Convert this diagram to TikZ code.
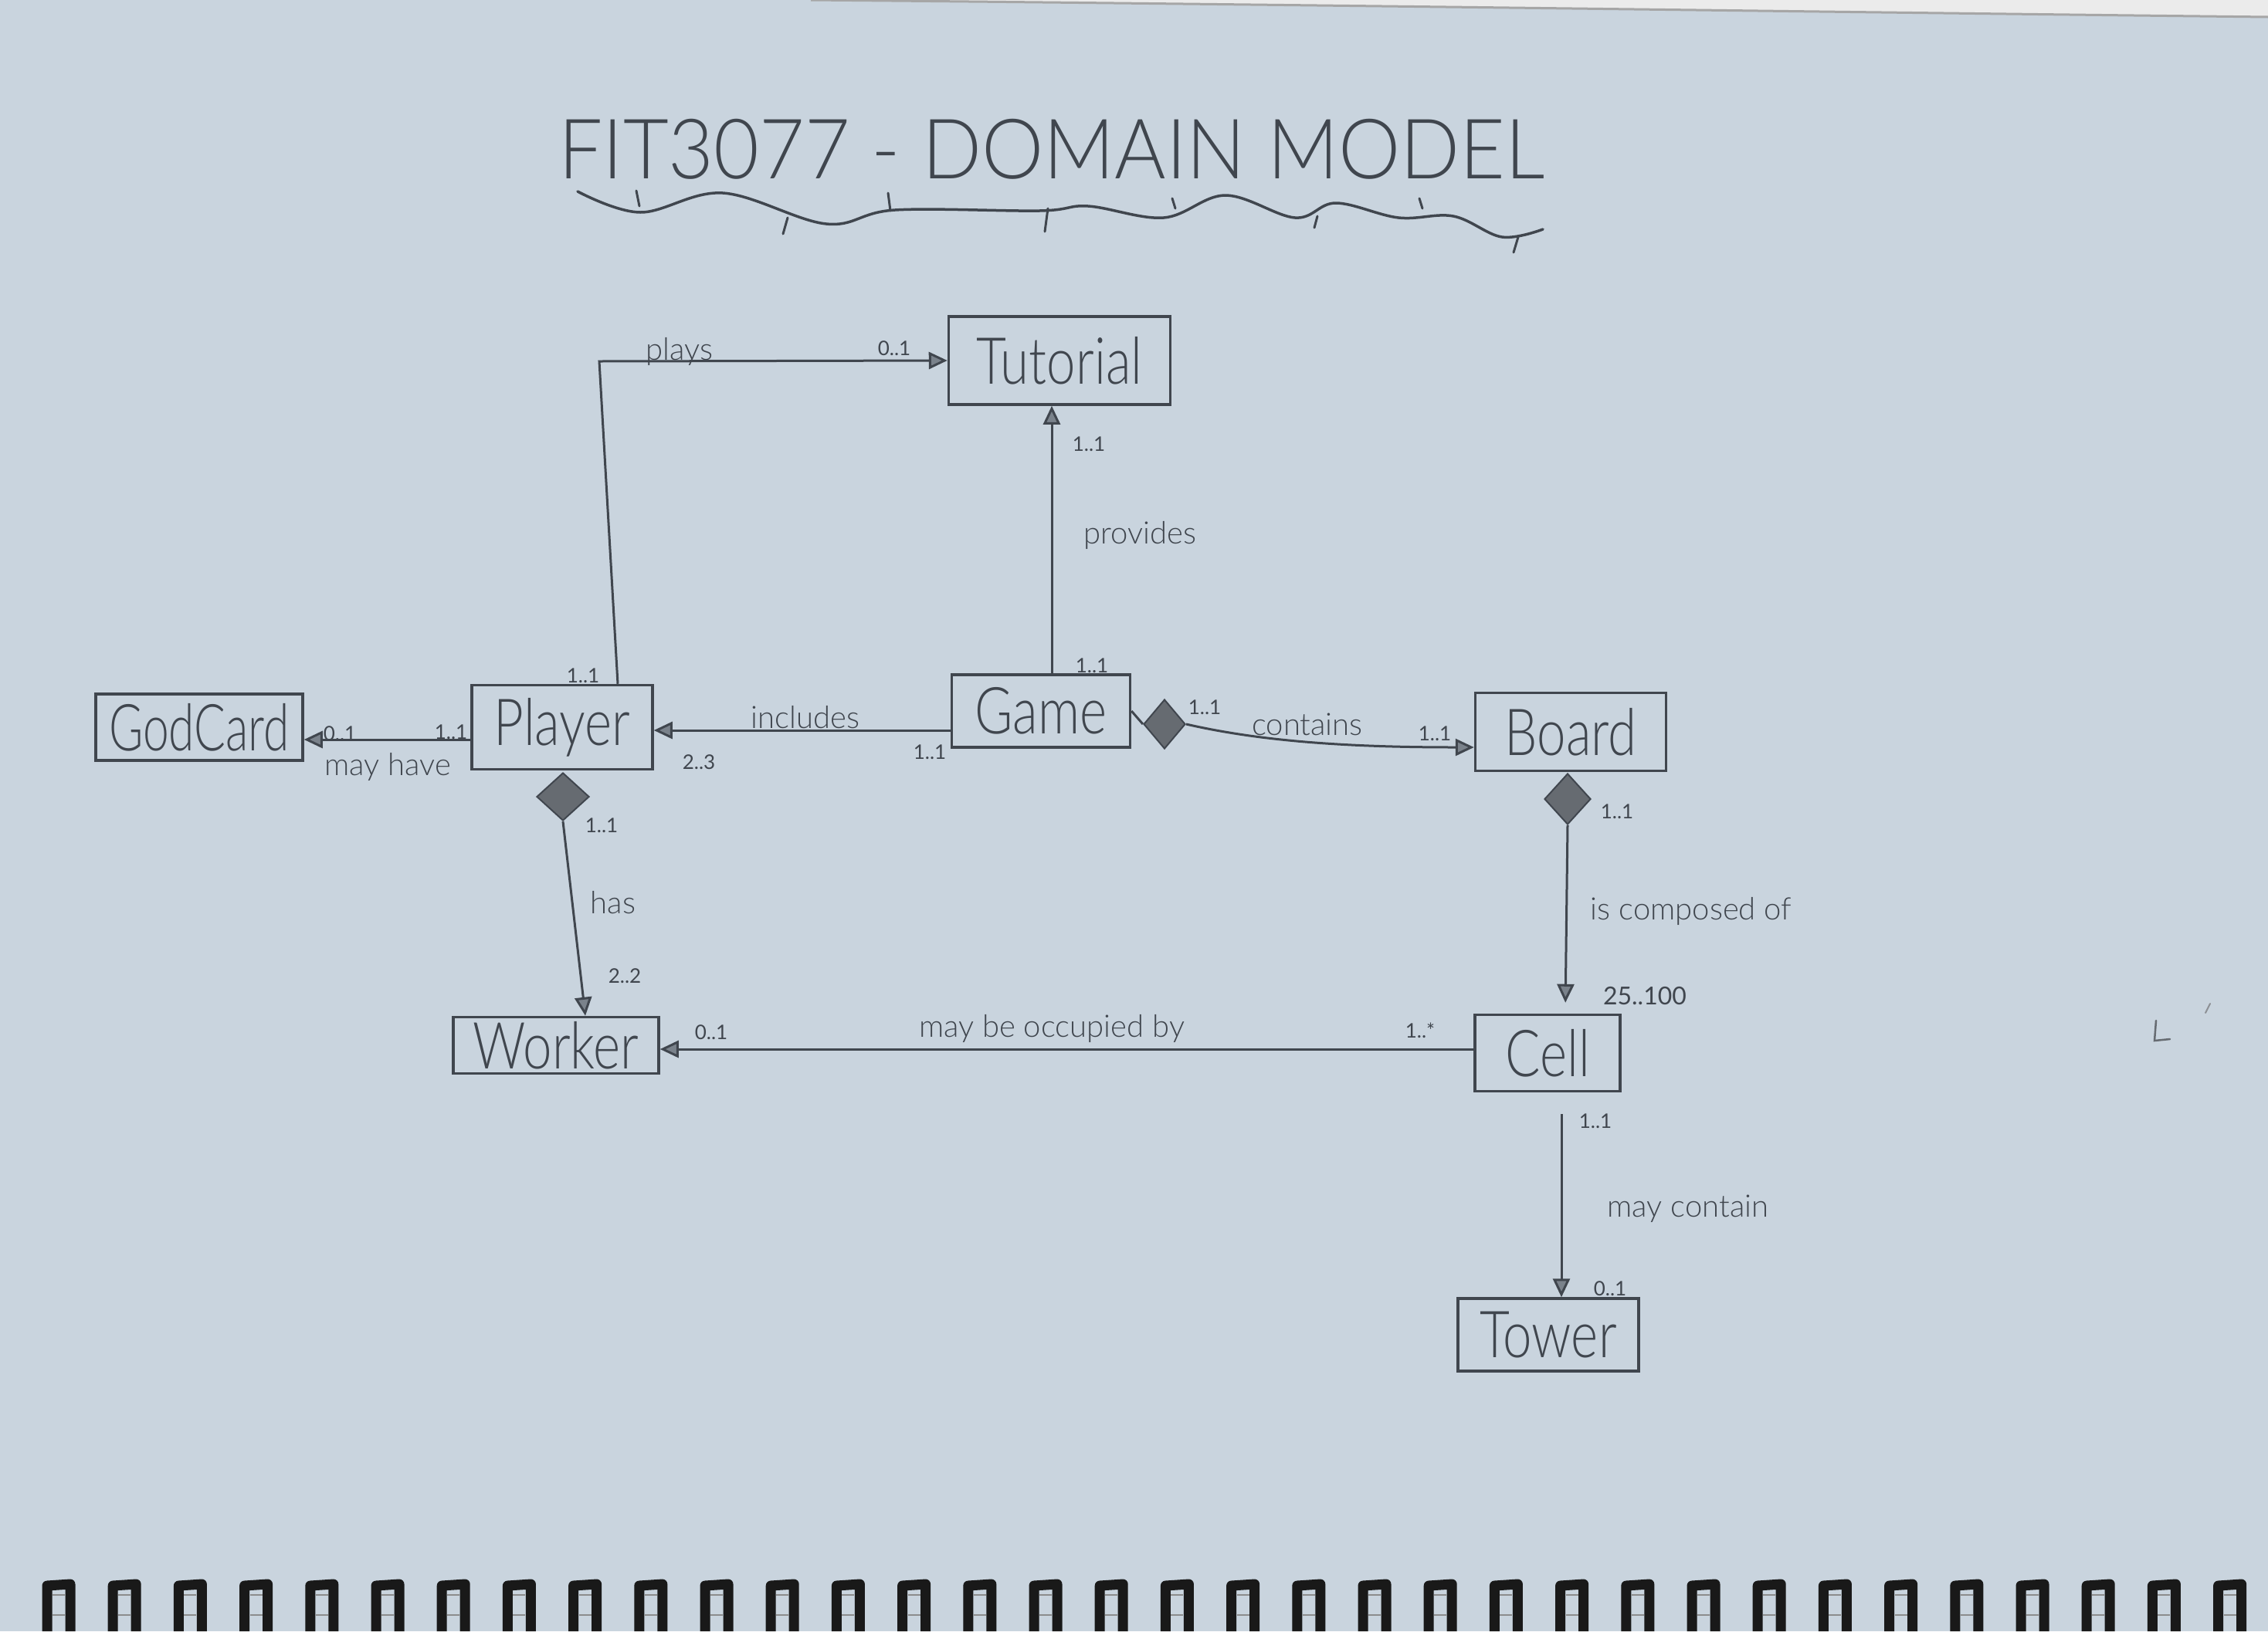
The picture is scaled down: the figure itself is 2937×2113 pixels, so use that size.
\documentclass[tikz,border=0pt]{standalone}
\usepackage{fontspec}
\setmainfont{Lato Light}
\newfontfamily\latoreg{Lato}
\usepackage{graphicx}
\usetikzlibrary{arrows.meta,shapes.geometric,calc}
\definecolor{paper}{HTML}{C9D4DE}
\definecolor{pencil}{HTML}{40464E}
\definecolor{tipfill}{HTML}{7A828B}
\newcommand{\narrowtxt}[1]{\scalebox{0.8}[1]{#1}}
\tikzset{
  cls/.style={draw=pencil, line width=3.5pt, inner sep=0pt, text=pencil,
    font=\fontsize{84}{84}\selectfont},
  assoc/.style={draw=pencil, line width=3pt, -{Triangle[length=24pt,width=22pt,fill=tipfill]}},
  plainline/.style={draw=pencil, line width=3pt},
  comp/.style={diamond, draw=pencil, fill=pencil!80, line width=2pt, inner sep=0pt},
  rel/.style={text=pencil, font=\fontsize{40}{40}\selectfont, inner sep=0pt},
  mult/.style={text=pencil, font=\latoreg\fontsize{26}{26}\selectfont, inner sep=0pt},
}
\begin{document}
\begin{tikzpicture}[x=1pt,y=-1pt]
\useasboundingbox (0,0) rectangle (2937,2113);
\fill[paper] (0,0) rectangle (2937,2113);
% page edge shading at top
\fill[black!8] (1050,0) .. controls (1700,6) and (2400,16) .. (2937,22) -- (2937,0) -- cycle;
\draw[black!35, line width=3pt] (1050,0) .. controls (1700,6) and (2400,16) .. (2937,22);

% title
\node[text=pencil, font=\fontsize{108}{108}\selectfont, inner sep=0pt] (title) at (1362,193)
  {\scalebox{0.94}[1]{FIT3077 - DOMAIN MODEL}};
\draw[pencil, line width=3.5pt, line cap=round] plot[smooth, tension=0.6] coordinates
  {(748,248) (829,275) (936,250) (1070,290) (1159,272) (1346,273) (1409,267) (1507,282)
   (1587,253) (1677,282) (1730,263) (1811,282) (1882,280) (1945,307) (1998,297)};
\foreach \a/\b/\c/\d in {824/247/828/267, 1020/282/1014/303, 1150/250/1153/273,
  1357/270/1353/300, 1518/257/1522/270, 1706/280/1702/295, 1838/257/1842/270,
  1966/307/1960/327}
  \draw[pencil, line width=3pt, line cap=round] (\a,\b) -- (\c,\d);

% classes
\node[cls, minimum width=287pt, minimum height=114pt] (tutorial) at (1372,467) {\narrowtxt{Tutorial}};
\node[cls, minimum width=231pt, minimum height=94pt] (game) at (1348,921) {\narrowtxt{Game}};
\node[cls, minimum width=247pt, minimum height=101pt] (board) at (2034,948) {\narrowtxt{Board}};
\node[cls, minimum width=234pt, minimum height=109pt] (player) at (728,942) {\narrowtxt{Player}};
\node[cls, minimum width=268pt, minimum height=86pt] (godcard) at (258,942) {\scalebox{0.72}[1]{GodCard}};
\node[cls, minimum width=266pt, minimum height=73pt] (worker) at (720,1354) {\narrowtxt{Worker}};
\node[cls, minimum width=188pt, minimum height=99pt] (cell) at (2004,1364) {\narrowtxt{Cell}};
\node[cls, minimum width=234pt, minimum height=94pt] (tower) at (2005,1729) {\narrowtxt{Tower}};

% composition diamonds
\node[comp, minimum width=54pt, minimum height=64pt] (dg) at (1508,938) {};
\node[comp, minimum width=68pt, minimum height=62pt] (dp) at (729,1032) {};
\node[comp, minimum width=60pt, minimum height=66pt] (db) at (2030,1035) {};

% helper coordinates
\coordinate (px) at (800,0);
\coordinate (bend) at (776,468);
\coordinate (gx) at (1362,0);
\coordinate (yi) at (0,946);
\coordinate (yc) at (0,968);
\coordinate (ym) at (0,958);
\coordinate (wx) at (758,0);
\coordinate (yo) at (0,1359);
\coordinate (cx) at (2027,0);
\coordinate (tx) at (2022,0);

% connectors
\draw[assoc] (player.north -| px) -- (bend) -- (tutorial.west);
\draw[assoc] (game.north -| gx) -- (tutorial.south -| gx);
\draw[assoc] (game.west |- yi) -- (player.east |- yi);
\draw[plainline] (game.east) -- (dg.west);
\draw[assoc] (dg.east) .. controls (1640,962) and (1760,968) .. (board.west |- yc);
\draw[assoc] (player.west |- ym) -- (godcard.east |- ym);
\draw[assoc] (dp.south) -- (worker.north -| wx);
\draw[assoc] (cell.west |- yo) -- (worker.east |- yo);
\draw[assoc, shorten >=14pt] (db.south) -- (cell.north -| cx);
\draw[assoc, shorten <=28pt] (cell.south -| tx) -- (tower.north -| tx);

% labels: plays
\node[mult] (m1) at (755,875) {1..1};
\node[rel] (l1) at (880,455) {plays};
\node[mult] (m2) at (1158,451) {0..1};
% provides
\node[mult] (m3) at (1410,575) {1..1};
\node[rel] (l2) at (1476,693) {provides};
\node[mult] (m4) at (1414,862) {1..1};
% includes
\node[rel] (l3) at (1043,929) {includes};
\node[mult] (m5) at (905,987) {2..3};
\node[mult] (m6) at (1204,974) {1..1};
% contains
\node[mult] (m7) at (1560,916) {1..1};
\node[rel] (l4) at (1693,938) {contains};
\node[mult] (m8) at (1858,950) {1..1};
% may have
\node[mult] (m9) at (440,950) {0..1};
\node[mult] (m10) at (584,948) {1..1};
\node[rel] (l5) at (502,993) {may have};
% has
\node[mult] (m11) at (779,1069) {1..1};
\node[rel] (l6) at (794,1169) {has};
\node[mult] (m12) at (809,1264) {2..2};
% is composed of
\node[mult] (m13) at (2094,1051) {1..1};
\node[rel] (l7) at (2190,1180) {is composed of};
\node[mult, font=\latoreg\fontsize{32}{32}\selectfont] (m14) at (2130,1290) {25..100};
% may be occupied by
\node[mult] (m15) at (921,1337) {0..1};
\node[rel] (l8) at (1362,1332) {may be occupied by};
\node[mult] (m16) at (1839,1335) {1..*};
% may contain
\node[mult] (m17) at (2066,1452) {1..1};
\node[rel] (l9) at (2186,1566) {may contain};
\node[mult] (m18) at (2085,1669) {0..1};

% stray pencil mark
\draw[pencil!80, line width=2.5pt, line cap=round] (2792,1322) -- (2790,1348) -- (2810,1346);
\draw[pencil!60, line width=2pt, line cap=round] (2862,1300) -- (2856,1312);

% spiral binding
\foreach \i in {0,...,33}{
  \pgfmathsetmacro\xx{54+85.2*\i}
  \draw[black!90, line width=13pt, line join=round] (\xx+7,2113) -- (\xx+7,2054) -- (\xx+37,2052) -- (\xx+37,2113);
  \draw[black!45, line width=2pt] (\xx+14,2066) -- (\xx+30,2066);
  \draw[black!45, line width=2pt] (\xx+14,2092) -- (\xx+30,2092);
}
\end{tikzpicture}
\end{document}
